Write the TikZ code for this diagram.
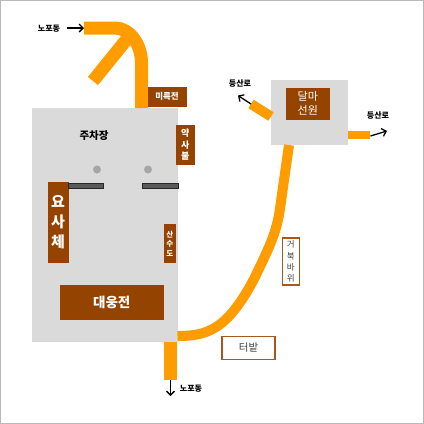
\documentclass[tikz,border=0pt]{standalone}
\usetikzlibrary{arrows.meta}
\usepackage{fontspec}
\setmainfont{Noto Sans CJK KR}
\begin{document}
\begin{tikzpicture}[
    x=1pt, y=-1pt,
    yard/.style={rectangle, fill=yardgray, inner sep=0pt},
    hall/.style={rectangle, fill=hallbrown, draw=hallbrown!90!red, line width=0.5pt, inner sep=0pt, text=white, align=center, font=\bfseries},
    sight/.style={rectangle, fill=white, draw=sightbrown, line width=1.2pt, inner sep=0pt, text=black!75, align=center},
    road/.style={line width=13pt, roadorange},
    trail/.style={line width=10pt, roadorange},
    goway/.style={-{Straight Barb[length=4pt,width=8pt]}, black, line width=1.3pt},
    place/.style={inner sep=0pt, font=\fontsize{8}{9}\selectfont\bfseries},
    fence/.style={rectangle, fill=black!65, draw=black!85, line width=0.4pt, inner sep=0pt, minimum height=5pt},
    spot/.style={circle, fill=black!35, inner sep=0pt, minimum size=8pt}
  ]
    \definecolor{yardgray}{HTML}{DADADA}
    \definecolor{hallbrown}{HTML}{954400}
    \definecolor{sightbrown}{HTML}{A8581C}
    \definecolor{roadorange}{HTML}{FF9C00}
    % Frame
    \path[use as bounding box] (0,0) rectangle (424,424);
    \draw[black!28, line width=1pt] (0.5,0.5) rectangle (423.5,423.5);

    % Yards
    \node[yard, minimum width=145.5pt, minimum height=234pt] (parking) at (104.75,225) {};
    \node[yard, minimum width=76.5pt, minimum height=65pt] (seonwon) at (309.25,112.5) {};

    % Road ends
    \coordinate (topin) at (84,28);
    \coordinate (topturn) at (141.5,63);
    \coordinate (topdown) at (141.5,108);
    \coordinate (branchin) at (131,34);
    \coordinate (branchend) at (93,81);
    \coordinate (botend) at (170.5,380);
    \coordinate (botstart) at (170.5,342);
    \coordinate (curvestart) at (177.5,336);
    \coordinate (curvemid) at (254,279);
    \coordinate (curvetop) at (279.5,212);
    \coordinate (seonbot) at (289,145);
    \coordinate (leftstart) at (271,116.5);
    \coordinate (leftend) at (251,104);
    \coordinate (rightstart) at (347.5,135);
    \coordinate (rightend) at (370,135);

    % Roads
    \draw[road] (topin) -- (115,28) .. controls (129.6,28) and (141.5,44) .. (topturn) -- (topdown);
    \draw[road] (branchin) -- (branchend);
    \draw[road] (botstart) -- (botend);
    \draw[trail] (curvestart) .. controls (207,336) and (227,330) .. (curvemid)
      .. controls (268,250) and (276,234) .. (curvetop) -- (seonbot);
    \draw[trail] (leftstart) -- (leftend);
    \draw[line width=8pt, roadorange] (rightstart) -- (rightend);

    % Arrows
    \coordinate (topfrom) at (67,28);
    \coordinate (botto) at (170.5,396);
    \coordinate (leftto) at (238,95.5);
    \coordinate (rightfrom) at (370.5,136);
    \coordinate (rightto) at (387,131);
    \draw[goway] (topfrom) -- (topin);
    \draw[goway] (botend) -- (botto);
    \draw[goway] (leftend) -- (leftto);
    \draw[goway] (rightfrom) -- (rightto);

    % Place names
    \node[place] (nopotop) at (49,28.5) {노포동};
    \node[place] (nopobot) at (191,389) {노포동};
    \node[place] (hikeleft) at (240,84) {등산로};
    \node[place] (hikeright) at (378,116) {등산로};

    % Halls
    \node[hall, minimum width=38pt, minimum height=19pt, font=\fontsize{8.5}{9}\selectfont\bfseries] (mireuk) at (167,96.5) {미륵전};
    \node[hall, minimum width=17.5pt, minimum height=39.5pt, font=\fontsize{9}{11.5}\selectfont\bfseries] (yaksa) at (185.25,144.75) {약\\사\\불};
    \node[hall, minimum width=20pt, minimum height=80pt, font=\fontsize{15}{20}\selectfont\bfseries] (yosa) at (58,222) {요\\사\\체};
    \node[hall, minimum width=11.5pt, minimum height=38pt, font=\fontsize{7.5}{9.5}\selectfont\bfseries] (sansu) at (169.75,243.5) {산\\수\\도};
    \node[hall, minimum width=103.5pt, minimum height=34.5pt, font=\fontsize{13.5}{15}\selectfont\bfseries] (daeung) at (111.75,302.25) {대웅전};
    \node[hall, minimum width=43.5pt, minimum height=31pt, font=\fontsize{11}{14}\selectfont] (dalma) at (307.75,103.5) {달마\\선원};

    % Parking
    \node[font=\fontsize{10.5}{11}\selectfont\bfseries, inner sep=0pt] (jucha) at (94,135.5) {주차장};
    \node[spot] (spotleft) at (97,169.5) {};
    \node[spot] (spotright) at (148,169.5) {};
    \node[fence, minimum width=35pt] (fenceleft) at (85.5,185.25) {};
    \node[fence, minimum width=35.5pt] (fenceright) at (160,185.25) {};

    % Sights
    \node[sight, minimum width=17pt, minimum height=47pt, font=\fontsize{8.5}{11.2}\selectfont] (geobuk) at (290.75,261.5) {거\\북\\바\\위};
    \node[sight, minimum width=53pt, minimum height=23pt, font=\fontsize{10.5}{12}\selectfont] (teobat) at (248.5,347.75) {터밭};
  \end{tikzpicture}
\end{document}
